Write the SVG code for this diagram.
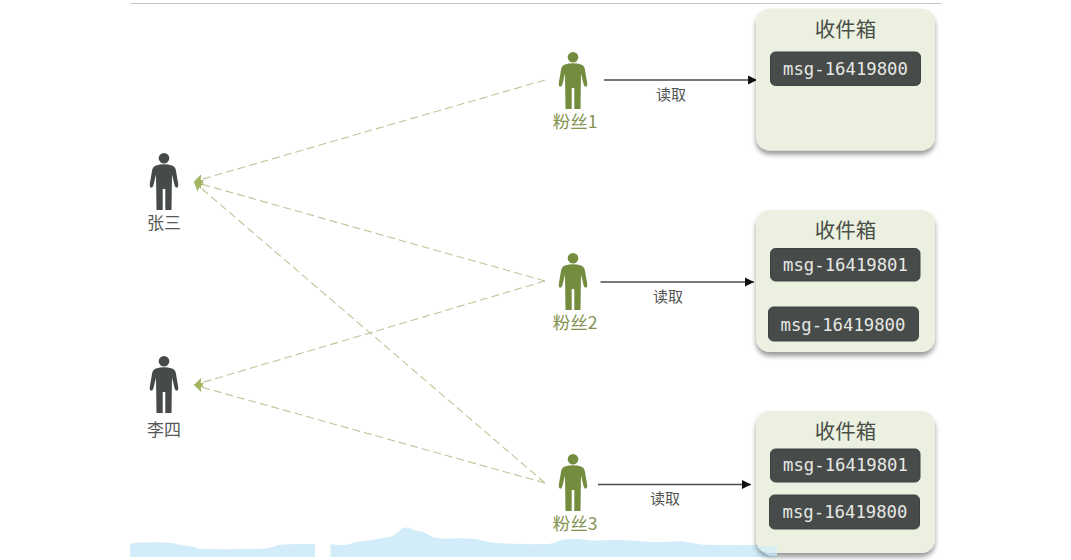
<svg xmlns="http://www.w3.org/2000/svg" width="1071" height="560" viewBox="0 0 1071 560">
<style>
.cjk{font-family:"Noto Sans CJK SC","Noto Sans",sans-serif}
.dash{fill:none;stroke:#bcc69a;stroke-width:1.1;stroke-dasharray:8 4}
.read{fill:none;stroke:#4a4d4c;stroke-width:1.3;marker-end:url(#ah)}
.box{fill:#ebf0e0;filter:url(#sh)}
.msg{fill:#474b4a;stroke:#3f4342;stroke-width:1}
.mt{font-family:"DejaVu Sans Mono","Liberation Mono",monospace;font-size:17.300px;fill:#e6e8e4;text-anchor:middle}
.tt{font-size:20.500px;fill:#4a4f48;text-anchor:middle}
.fan{font-size:17.500px;fill:#84934f;text-anchor:middle}
.usr{font-size:17px;fill:#565958;text-anchor:middle}
.lb{font-size:15px;fill:#505251;text-anchor:middle}
</style>
<defs>
<filter id="sh" x="-10%" y="-10%" width="120%" height="125%"><feDropShadow dx="0" dy="4" stdDeviation="2.5" flood-color="#000" flood-opacity=".4"/></filter>
<marker id="ah" markerUnits="userSpaceOnUse" markerWidth="10" markerHeight="10" refX="9" refY="5" orient="auto"><path d="M0,0.500L9,5L0,9.500z" fill="#111"/></marker>
<marker id="gh" markerUnits="userSpaceOnUse" markerWidth="12" markerHeight="12" refX="9" refY="6" orient="auto"><path d="M0,1L9,6L0,11L2,6z" fill="#a1b560"/></marker>
<symbol id="p" overflow="visible"><circle cx="0" cy="5.300" r="5.300"/><path d="M-8,12.500Q0,10 8,12.500Q11.500,13.500 12,18L14.300,31.500Q14.500,34.300 12.800,34.800Q11.300,35 10.500,32L8,21.500L7.800,35.500L7.500,57H1.300V36H-1.300V57H-7.500L-7.800,35.500L-8,21.500L-10.500,32Q-11.300,35 -12.800,34.800Q-14.500,34.300 -14.300,31.500L-12,18Q-11.500,13.500 -8,12.500Z"/></symbol>
</defs>
<rect width="1071" height="560" fill="#fff"/>
<path d="M130,3.500H942" stroke="#bcc5d0" stroke-width="1.200" fill="none"/>
<g id="water" fill="#d2edf9">
<path d="M130,557V543.500Q150,541.500 172,543Q182,546 192,546.500Q198,549 205,549Q240,549.500 265,548.500Q272,548 277,545Q290,543.500 315,544V557Z"/>
<path d="M330.500,557V544Q340,545.500 348,544.500Q355,541.500 368,540.500Q380,538.500 392,536.500Q398,533 402,528.500Q408,525.500 415,530.500Q425,531.500 431,536Q438,539.500 450,538.500Q470,537.500 480,540Q490,543 505,543.500Q530,544.500 548,544Q555,543.500 560,540.500Q570,537 590,540.500Q600,540.500 610,540Q630,539.500 650,542Q670,542 680,541Q690,542 700,544.500Q730,545.500 755,545L777,546V557Z"/>
</g>
<g id="connectors">
<path class="dash" marker-end="url(#gh)" d="M545,80L194,181.500"/>
<path class="dash" marker-end="url(#gh)" d="M545,281L194,182"/>
<path class="dash" marker-end="url(#gh)" d="M545,483L194,182"/>
<path class="dash" marker-end="url(#gh)" d="M545,281L194,385"/>
<path class="dash" marker-end="url(#gh)" d="M545,483L194,385"/>
<path class="read" d="M604,80H757"/>
<path class="read" d="M600.500,282H754"/>
<path class="read" d="M598,484.500H751"/>
<text class="cjk lb" x="671" y="99.500">读取</text>
<text class="cjk lb" x="668" y="302">读取</text>
<text class="cjk lb" x="665" y="503.500">读取</text>
</g>
<g id="zhangsan" fill="#464a49"><use href="#p" x="164" y="153"/><text class="cjk usr" x="164" y="229">张三</text></g>
<g id="lisi" fill="#464a49"><use href="#p" x="164" y="356"/><text class="cjk usr" x="164" y="436">李四</text></g>
<g id="fan1" fill="#748c3e"><use href="#p" x="573" y="52"/><text class="cjk fan" x="575" y="128">粉丝1</text></g>
<g id="fan2" fill="#748c3e"><use href="#p" x="573" y="253"/><text class="cjk fan" x="575" y="329">粉丝2</text></g>
<g id="fan3" fill="#748c3e"><use href="#p" x="573" y="454"/><text class="cjk fan" x="575" y="530">粉丝3</text></g>
<g id="inbox1"><rect class="box" x="756" y="8.500" width="179" height="142" rx="14"/><text class="cjk tt" x="845.500" y="37">收件箱</text>
<rect class="msg" x="770.500" y="52" width="150" height="33.500" rx="5"/><text class="mt" x="845.500" y="75">msg-16419800</text></g>
<g id="inbox2"><rect class="box" x="756" y="210" width="179" height="142" rx="14"/><text class="cjk tt" x="845.500" y="237.500">收件箱</text>
<rect class="msg" x="770.500" y="248.500" width="149.500" height="32.500" rx="5"/><text class="mt" x="845.500" y="270.500">msg-16419801</text>
<rect class="msg" x="768.500" y="307" width="150" height="34" rx="5"/><text class="mt" x="843" y="330.500">msg-16419800</text></g>
<g id="inbox3"><rect class="box" x="756" y="411" width="179" height="142" rx="14"/><text class="cjk tt" x="845.500" y="438.500">收件箱</text>
<rect class="msg" x="770.500" y="449" width="149.500" height="33" rx="5"/><text class="mt" x="845.500" y="471">msg-16419801</text>
<rect class="msg" x="769.500" y="495" width="150" height="34" rx="5"/><text class="mt" x="845" y="518">msg-16419800</text></g>
<path id="wash" d="M756,546H777V556H770Q760,552 756,546Z" fill="#d2edf9" opacity=".75"/>
</svg>
